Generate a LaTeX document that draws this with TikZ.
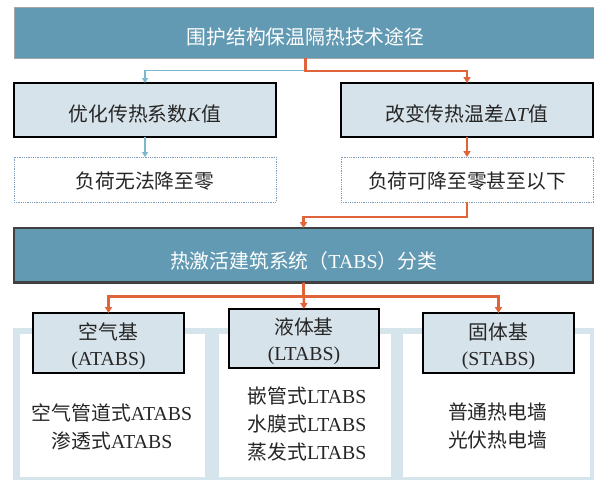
\documentclass[tikz,border=0pt]{standalone}
\usepackage{fontspec}
\setmainfont{Liberation Serif}
\newfontfamily\cjkfont{Noto Sans CJK SC}
\usetikzlibrary{arrows.meta}
\definecolor{steel}{HTML}{6299B3}
\definecolor{paleblue}{HTML}{D7E3EA}
\definecolor{panelblue}{HTML}{D6E5EC}
\definecolor{orangeline}{HTML}{E0643A}
\definecolor{skyline}{HTML}{7DB7CF}
\definecolor{dotblue}{HTML}{7F9CBB}
\definecolor{txt}{HTML}{262626}
\newcommand{\zh}[1]{{\cjkfont #1}}
\newcommand{\topstrut}{\rule{0pt}{23pt}}
\begin{document}
\begin{tikzpicture}[x=1pt,y=-1pt,
  every node/.style={inner sep=0pt, outer sep=0pt},
  basefont/.style={font=\fontsize{19.8}{26}\selectfont, text=txt},
  topbox/.style={basefont, draw=gray!70, line width=0.8pt, fill=steel, text=white, anchor=north west},
  tabsbox/.style={basefont, draw=black!75, line width=2.6pt, fill=steel, text=white, anchor=north west},
  kbox/.style={basefont, draw=black, line width=1.5pt, fill=paleblue, anchor=north west},
  dotbox/.style={basefont, draw=dotblue, line width=0.9pt, dash pattern=on 1pt off 0.8pt, fill=white, anchor=north west},
  subbox/.style={basefont, draw=black, line width=1.4pt, fill=paleblue, anchor=north west, align=center},
  listtext/.style={font=\fontsize{19.8}{28}\selectfont, text=txt, align=center},
  orangearrow/.style={draw=orangeline, line width=2.4pt, -{Triangle[width=7pt,length=6pt]}},
  bluearrow/.style={draw=skyline, line width=1.5pt, -{Triangle[width=6pt,length=5pt]}}
]
\useasboundingbox (0,0) rectangle (594,480);
\fill[white] (0,0) rectangle (594,480);

% bottom panels
\fill[panelblue] (13,328) rectangle (594,480);
\fill[white] (20,334) rectangle (205,477);
\fill[white] (219,334) rectangle (391,477);
\fill[white] (403,334) rectangle (590,477);

% nodes
\node[topbox, minimum width=583pt, minimum height=50.5pt, text height=23pt, text depth=0pt] (top) at (14,7.5)
  {\zh{围护结构保温隔热技术途径}};
\node[kbox, minimum width=262pt, minimum height=54pt, text height=23pt, text depth=0pt] (k) at (14,83)
  {\zh{优化传热系数}\textit{K}\zh{值}};
\node[kbox, minimum width=252pt, minimum height=54pt, text height=23pt, text depth=0pt] (t) at (341,83)
  {\zh{改变传热温差}Δ\textit{T}\zh{值}};
\node[dotbox, minimum width=262pt, minimum height=45pt, text height=17pt, text depth=0pt] (d1) at (14,157)
  {\zh{负荷无法降至零}};
\node[dotbox, minimum width=252pt, minimum height=45pt, text height=17pt, text depth=0pt] (d2) at (341,157)
  {\zh{负荷可降至零甚至以下}};
\node[tabsbox, minimum width=579pt, minimum height=54.5pt, text height=26pt, text depth=0pt] (tabs) at (14,228)
  {\zh{热激活建筑系统（}TABS\zh{）分类}};

\node[subbox, minimum width=151pt, minimum height=60pt] (a) at (33,313)
  {\topstrut\zh{空气基}\\(ATABS)};
\node[subbox, minimum width=150pt, minimum height=59pt] (l) at (229,309)
  {\topstrut\zh{液体基}\\(LTABS)};
\node[subbox, minimum width=151pt, minimum height=60pt] (s) at (423,313)
  {\topstrut\zh{固体基}\\(STABS)};

\node[listtext] (la) at (112,427) {\zh{空气管道式}ATABS\\\zh{渗透式}ATABS};
\node[listtext] (ll) at (307,424) {\zh{嵌管式}LTABS\\\zh{水膜式}LTABS\\\zh{蒸发式}LTABS};
\node[listtext] (ls) at (497.5,426) {\zh{普通热电墙}\\\zh{光伏热电墙}};

% connectors
\draw[bluearrow] (top.south) -- ++(0,12.7) -| (k.north);
\draw[orangearrow] (top.south) -- ++(0,12.7) -| (t.north);
\draw[bluearrow] (k.south) -- (d1.north);
\draw[orangearrow] (t.south) -- (d2.north);
\draw[orangearrow] (d2.south) -- ++(0,15) -| (tabs.north);
\draw[orangearrow] (tabs.south) -- ++(0,14) -| (a.north);
\draw[orangearrow] (tabs.south) -- ++(0,14) -| (s.north);
\draw[orangearrow] (tabs.south) -- (l.north);
\end{tikzpicture}
\end{document}
